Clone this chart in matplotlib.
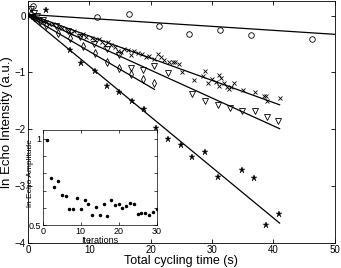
import matplotlib
matplotlib.use("Agg")
import matplotlib.pyplot as plt
import numpy as np

plt.rcParams["font.family"] = ["Liberation Sans", "DejaVu Sans"]

# main panel data (time in s, ln echo intensity)
circ_t = [0.8, 11.2, 16.4, 21.3, 26.3, 31.3, 36.4, 46.3]
circ_y = [0.17, -0.03, 0.03, -0.19, -0.33, -0.26, -0.35, -0.42]

cross_t = [0.3, 0.8, 1.2, 1.6, 2.0, 2.4, 3.0, 3.5, 4.0, 5.0, 5.5, 6.5, 7.0, 7.5,
           8.5, 9.0, 9.5, 10.5, 11.0, 11.5, 12.0, 12.5, 13.0, 13.6, 14.2, 14.7,
           15.2, 15.7, 16.3, 16.8, 17.3, 18.0, 18.5, 19.2, 19.8, 20.6, 21.2, 21.7,
           22.2, 23.0, 23.6, 24.0, 24.6, 25.1, 27.0, 28.5, 28.9, 29.4, 30.0, 30.6,
           31.1, 31.2, 31.4, 32.0, 32.5, 32.7, 33.0, 33.5, 35.0, 37.0, 38.5, 38.8,
           39.0, 41.0]
cross_y = [0.0, -0.03, -0.05, -0.06, -0.08, -0.10, -0.12, -0.14, -0.15, -0.20,
           -0.22, -0.26, -0.30, -0.28, -0.35, -0.33, -0.38, -0.40, -0.43, -0.42,
           -0.47, -0.51, -0.47, -0.52, -0.56, -0.62, -0.64, -0.58, -0.60, -0.69,
           -0.62, -0.66, -0.67, -0.72, -0.71, -0.76, -0.68, -0.72, -0.78, -0.82,
           -0.82, -0.81, -0.85, -0.99, -1.14, -1.07, -0.97, -1.18, -1.11, -1.16,
           -1.04, -1.23, -1.09, -1.19, -1.26, -1.29, -1.25, -1.18, -1.30, -1.35,
           -1.41, -1.42, -1.50, -1.45]

tri_t = [0.5, 1.0, 1.5, 2.5, 4.5, 6.5, 8.5, 10.8, 12.8, 14.9, 16.8, 18.7, 20.6,
         22.8, 26.8, 28.8, 31.0, 32.9, 34.9, 37.0, 38.9, 40.8]
tri_y = [0.12, 0.05, 0.0, -0.07, -0.18, -0.28, -0.38, -0.50, -0.59, -0.70, -0.92,
         -0.95, -0.89, -1.01, -1.38, -1.51, -1.57, -1.62, -1.68, -1.68, -1.78, -1.86]

dia_t = [0.5, 1.0, 2.0, 3.0, 4.9, 6.8, 8.9, 10.9, 12.8, 14.8, 16.8, 18.7, 20.6]
dia_y = [0.05, -0.02, -0.10, -0.17, -0.30, -0.40, -0.54, -0.66, -0.81, -0.92,
         -1.02, -1.11, -1.19]

star_t = [2.9, 6.8, 8.7, 11.0, 12.8, 14.8, 17.0, 18.9, 20.9, 22.8, 24.9, 26.8,
          28.9, 30.9, 34.9, 36.9, 38.8, 40.9]
star_y = [0.09, -0.60, -0.83, -0.98, -1.23, -1.35, -1.50, -1.64, -1.97, -2.17,
          -2.28, -2.48, -2.39, -2.84, -2.72, -2.85, -3.69, -3.49]

# linear fits: circles, crosses, triangles, diamonds, stars
fit_intercept = [0.02, 0.03, 0.02, 0.0, 0.0]
fit_slope = [-0.007, -0.039, -0.049, -0.063, -0.089]
fit_tmax = [50, 41, 41, 20.6, 41]

# inset data
iterations = list(range(1, 31))
amplitude = [0.99, 0.773, 0.72, 0.754, 0.676, 0.669, 0.591, 0.595, 0.655, 0.595,
             0.645, 0.62, 0.556, 0.605, 0.556, 0.62, 0.552, 0.645, 0.614, 0.624,
             0.597, 0.612, 0.628, 0.622, 0.566, 0.572, 0.572, 0.556, 0.577, 0.591]

fig = plt.figure(figsize=(3.41, 2.68), dpi=100)
ax = fig.add_axes([0.082, 0.093, 0.900, 0.902])

ax.plot(circ_t, circ_y, "o", mfc="none", mec="k", ms=4, mew=0.6)
ax.plot(cross_t, cross_y, "x", color="k", ms=3, mew=0.6)
ax.plot(tri_t, tri_y, "v", mfc="none", mec="k", ms=4, mew=0.6)
ax.plot(dia_t, dia_y, "d", mfc="none", mec="k", ms=4, mew=0.6)
ax.plot(star_t, star_y, "*", color="k", ms=4.5, mew=0.3)

for b, m, tm in zip(fit_intercept, fit_slope, fit_tmax):
    tt = np.array([0, tm])
    ax.plot(tt, b + m * tt, color="k", lw=0.9)

ax.set_xlim(0, 50)
ax.set_ylim(-4, 0.25)
ax.set_xticks([0, 10, 20, 30, 40, 50])
ax.set_yticks([-4, -3, -2, -1, 0])
ax.tick_params(direction="in", top=True, right=True, labelsize=7, length=3, pad=1.5, width=0.6)
ax.set_xlabel("Total cycling time (s)", fontsize=9, labelpad=0)
ax.set_ylabel("ln Echo Intensity (a.u.)", fontsize=9.5, labelpad=1)
for s in ax.spines.values():
    s.set_linewidth(0.6)

ins = fig.add_axes([0.126, 0.160, 0.333, 0.355])
ins.plot(iterations, amplitude, ".", color="k", ms=3)
ins.set_xlim(0, 30)
ins.set_ylim(0.5, 1.05)
ins.set_xticks([0, 10, 20, 30])
ins.set_yticks([0.5, 0.6, 0.7, 0.8, 0.9, 1.0])
ins.set_yticklabels(["0.5", "", "", "", "", "1"])
ins.tick_params(direction="in", top=True, right=True, labelsize=6.5, length=2, pad=1, width=0.5)
ins.set_xlabel("Iterations", fontsize=6.5, labelpad=0)
ins.set_ylabel("ln Echo Amplitude", fontsize=6)
ins.yaxis.set_label_coords(-0.075, 0.55)
for s in ins.spines.values():
    s.set_linewidth(0.5)

fig.savefig("out.png", dpi=100)
